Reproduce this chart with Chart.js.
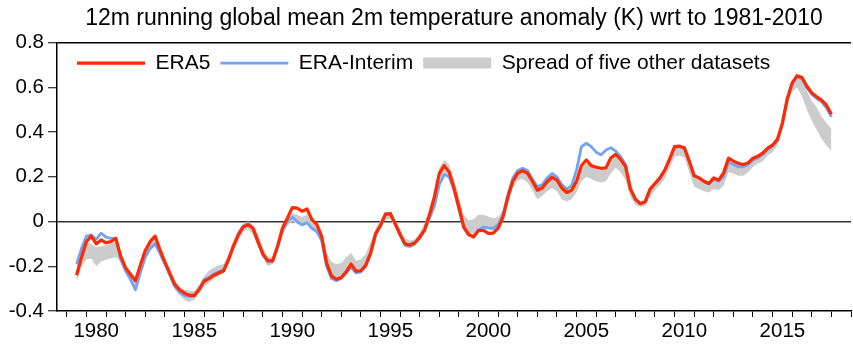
<!DOCTYPE html>
<html>
<head>
<meta charset="utf-8">
<title>12m running global mean 2m temperature anomaly</title>
<script src="https://cdn.jsdelivr.net/npm/chart.js@4.4.1/dist/chart.umd.min.js"></script>
<style>
	body { margin: 0; background: #ffffff; }
	#wrap { width: 853px; height: 345px; }
</style>
</head>
<body>
<div id="wrap"><canvas id="mycanvas" width="853" height="345"></canvas></div>
<script>
// quarterly samples, first one at mid 1979
var firstYear = 1979.5;
var stepYears = 0.25;

var era5 = [
	-0.24, -0.16,
	-0.09, -0.065, -0.10, -0.082,
	-0.095, -0.09, -0.075, -0.155,
	-0.207, -0.237, -0.265, -0.195,
	-0.13, -0.09, -0.065, -0.125,
	-0.18, -0.23, -0.28, -0.305,
	-0.32, -0.33, -0.33, -0.305,
	-0.267, -0.255, -0.24, -0.23,
	-0.22, -0.17, -0.11, -0.06,
	-0.024, -0.014, -0.03, -0.09,
	-0.145, -0.175, -0.175, -0.11,
	-0.03, 0.015, 0.062, 0.06,
	0.046, 0.056, 0.009, -0.013,
	-0.066, -0.185, -0.243, -0.258,
	-0.25, -0.225, -0.19, -0.222,
	-0.22, -0.195, -0.14, -0.055,
	-0.018, 0.032, 0.036, -0.01,
	-0.058, -0.1, -0.105, -0.095,
	-0.07, -0.037, 0.03, 0.11,
	0.215, 0.25, 0.222, 0.15,
	0.065, -0.025, -0.058, -0.068,
	-0.04, -0.04, -0.053, -0.052,
	-0.03, 0.02, 0.11, 0.18,
	0.215, 0.228, 0.215, 0.18,
	0.14, 0.15, 0.178, 0.198,
	0.185, 0.15, 0.13, 0.14,
	0.18, 0.25, 0.275, 0.25,
	0.243, 0.238, 0.24, 0.285,
	0.3, 0.278, 0.245, 0.145,
	0.1, 0.08, 0.088, 0.145,
	0.17, 0.195, 0.23, 0.28,
	0.335, 0.337, 0.33, 0.27,
	0.205, 0.195, 0.18, 0.17,
	0.195, 0.185, 0.218, 0.283,
	0.27, 0.26, 0.255, 0.262,
	0.283, 0.292, 0.306, 0.328,
	0.342, 0.368, 0.44, 0.55,
	0.62, 0.652, 0.644, 0.605,
	0.575, 0.558, 0.543, 0.52,
	0.48
];

var eraInterim = [
	-0.19, -0.12,
	-0.065, -0.06, -0.08, -0.052,
	-0.07, -0.075, -0.075, -0.17,
	-0.22, -0.26, -0.305, -0.23,
	-0.16, -0.12, -0.1, -0.14,
	-0.19, -0.24, -0.29, -0.315,
	-0.33, -0.335, -0.335, -0.3,
	-0.26, -0.25, -0.235, -0.225,
	-0.215, -0.17, -0.11, -0.055,
	-0.02, -0.01, -0.03, -0.09,
	-0.15, -0.18, -0.18, -0.115,
	-0.04, 0.0, 0.02, 0.0,
	-0.015, -0.005, -0.03, -0.045,
	-0.085, -0.2, -0.255, -0.265,
	-0.255, -0.23, -0.205, -0.23,
	-0.225, -0.2, -0.145, -0.06,
	-0.018, 0.035, 0.036, -0.01,
	-0.06, -0.105, -0.11, -0.1,
	-0.075, -0.04, 0.015, 0.07,
	0.165, 0.21, 0.2, 0.14,
	0.055, -0.03, -0.06, -0.07,
	-0.035, -0.025, -0.028, -0.03,
	-0.015, 0.03, 0.12, 0.195,
	0.228, 0.238, 0.228, 0.19,
	0.155, 0.165, 0.195, 0.215,
	0.2, 0.165, 0.145, 0.16,
	0.23, 0.335, 0.35, 0.335,
	0.31, 0.298, 0.32, 0.33,
	0.315, 0.29, 0.255, 0.15,
	0.1, 0.08, 0.088, 0.14,
	0.168, 0.19, 0.228, 0.275,
	0.33, 0.335, 0.328, 0.27,
	0.205, 0.195, 0.178, 0.168,
	0.19, 0.18, 0.2, 0.265,
	0.255, 0.245, 0.245, 0.255,
	0.275, 0.285, 0.3, 0.322,
	0.336, 0.362, 0.435, 0.545,
	0.615, 0.645, 0.638, 0.598,
	0.568, 0.55, 0.535, 0.508,
	0.468
];

var spreadHigh = [
	-0.2, -0.14,
	-0.09, -0.1, -0.115, -0.11,
	-0.105, -0.1, -0.09, -0.155,
	-0.2, -0.22, -0.25, -0.19,
	-0.12, -0.085, -0.07, -0.115,
	-0.17, -0.215, -0.265, -0.29,
	-0.305, -0.31, -0.31, -0.285,
	-0.245, -0.22, -0.205, -0.195,
	-0.19, -0.145, -0.085, -0.04,
	-0.01, 0.0, -0.015, -0.055,
	-0.115, -0.16, -0.155, -0.095,
	-0.02, 0.015, 0.035, 0.03,
	0.02, 0.03, 0.0, -0.015,
	-0.05, -0.14, -0.18, -0.19,
	-0.185, -0.16, -0.14, -0.175,
	-0.17, -0.145, -0.09, -0.03,
	0.005, 0.045, 0.04, 0.005,
	-0.035, -0.075, -0.085, -0.08,
	-0.05, -0.01, 0.06, 0.13,
	0.24, 0.275, 0.255, 0.19,
	0.11, 0.03, 0.005, 0.01,
	0.03, 0.03, 0.022, 0.015,
	0.02, 0.05, 0.13, 0.2,
	0.225, 0.23, 0.215, 0.18,
	0.145, 0.155, 0.18, 0.195,
	0.185, 0.15, 0.13, 0.14,
	0.175, 0.235, 0.26, 0.245,
	0.235, 0.23, 0.235, 0.275,
	0.295, 0.275, 0.245, 0.15,
	0.11, 0.09, 0.1, 0.15,
	0.175, 0.2, 0.235, 0.285,
	0.335, 0.335, 0.325, 0.265,
	0.2, 0.19, 0.175, 0.17,
	0.19, 0.18, 0.21, 0.27,
	0.26, 0.25, 0.25, 0.265,
	0.29, 0.3, 0.315, 0.335,
	0.35, 0.38, 0.45, 0.56,
	0.625, 0.645, 0.63, 0.585,
	0.54, 0.51, 0.47, 0.44,
	0.415
];

var spreadLow = [
	-0.27, -0.2,
	-0.17, -0.165, -0.2, -0.18,
	-0.17, -0.165, -0.16, -0.18,
	-0.23, -0.265, -0.3, -0.24,
	-0.17, -0.13, -0.11, -0.16,
	-0.2, -0.25, -0.3, -0.33,
	-0.35, -0.36, -0.35, -0.32,
	-0.29, -0.275, -0.255, -0.245,
	-0.23, -0.19, -0.13, -0.085,
	-0.045, -0.035, -0.06, -0.11,
	-0.16, -0.2, -0.19, -0.13,
	-0.06, -0.02, 0.0, -0.01,
	-0.02, -0.01, -0.03, -0.055,
	-0.09, -0.2, -0.25, -0.26,
	-0.25, -0.225, -0.2, -0.225,
	-0.22, -0.2, -0.145, -0.06,
	-0.03, 0.01, 0.01, -0.025,
	-0.07, -0.115, -0.12, -0.11,
	-0.085, -0.05, 0.0, 0.07,
	0.17, 0.22, 0.19, 0.13,
	0.05, -0.025, -0.05, -0.055,
	-0.025, -0.02, -0.035, -0.04,
	-0.02, 0.0, 0.08, 0.15,
	0.185, 0.19, 0.175, 0.14,
	0.1, 0.115, 0.135, 0.15,
	0.135, 0.1, 0.09, 0.1,
	0.13, 0.18, 0.2, 0.19,
	0.18, 0.175, 0.18, 0.215,
	0.24, 0.22, 0.185, 0.11,
	0.075, 0.065, 0.07, 0.11,
	0.14, 0.165, 0.19, 0.24,
	0.29, 0.295, 0.285, 0.22,
	0.155, 0.145, 0.135, 0.13,
	0.145, 0.14, 0.16, 0.22,
	0.215, 0.205, 0.205, 0.22,
	0.245, 0.26, 0.27, 0.295,
	0.31, 0.34, 0.41, 0.52,
	0.58, 0.6, 0.56, 0.5,
	0.45, 0.41, 0.37, 0.34,
	0.315
];

var yTicks = [-0.4, -0.2, 0, 0.2, 0.4, 0.6, 0.8];
var xLabelEvery = 5;

function toPoints(values) {
	var pts = [];
	for (var i = 0; i < values.length; i++) {
		pts.push({ x: firstYear + i * stepYears, y: values[i] });
	}
	return pts;
}

var fontFamily = "'Liberation Sans', Arial, sans-serif";
Chart.defaults.color = '#000000';
Chart.defaults.font.family = fontFamily;

// the legend sits inside the plot, under the top axis
var legendInPlot = {
	id: 'legendInPlot',
	beforeDraw: function(chart) {
		var lg = chart.legend;
		var area = chart.chartArea;
		lg.left = area.left + 10;
		lg.right = area.right;
		lg.top = area.top;
		lg.bottom = area.top + 40;
		lg.width = lg.right - lg.left;
		lg.height = 40;
	}
};

var chartdata = {
	datasets: [
		{
			label: 'ERA5',
			data: toPoints(era5),
			borderColor: '#ff2a00',
			backgroundColor: '#ff2a00',
			borderWidth: 3.2,
			pointRadius: 0,
			pointStyle: 'line',
			fill: false,
			order: 1
		},
		{
			label: 'ERA-Interim',
			data: toPoints(eraInterim),
			borderColor: '#74a2f6',
			backgroundColor: '#74a2f6',
			borderWidth: 2.8,
			pointRadius: 0,
			pointStyle: 'line',
			fill: false,
			order: 2
		},
		{
			label: 'Spread of five other datasets',
			data: toPoints(spreadHigh),
			borderColor: 'rgba(0,0,0,0)',
			backgroundColor: '#cccccc',
			borderWidth: 0,
			pointRadius: 0,
			pointStyle: 'line',
			fill: '+1',
			order: 3
		},
		{
			label: '',
			data: toPoints(spreadLow),
			borderColor: 'rgba(0,0,0,0)',
			backgroundColor: '#cccccc',
			borderWidth: 0,
			pointRadius: 0,
			fill: false,
			order: 3
		}
	]
};

var ctx = document.getElementById('mycanvas');

var LineGraph = new Chart(ctx, {
	type: 'line',
	data: chartdata,
	plugins: [legendInPlot],
	options: {
		responsive: false,
		animation: false,
		devicePixelRatio: 1,
		layout: { padding: 0 },
		elements: { line: { tension: 0, borderJoinStyle: 'round' } },
		plugins: {
			title: {
				display: true,
				fullSize: false,
				text: '12m running global mean 2m temperature anomaly (K) wrt to 1981-2010',
				color: '#000000',
				font: { size: 23, weight: 'normal', family: fontFamily },
				padding: { top: 5, bottom: 9 }
			},
			legend: {
				display: true,
				position: 'top',
				align: 'start',
				fullSize: false,
				maxHeight: 1,
				labels: {
					usePointStyle: true,
					pointStyleWidth: 68,
					padding: 10,
					color: '#000000',
					font: { size: 21, family: fontFamily },
					filter: function(item) { return item.text !== ''; },
					generateLabels: function(chart) {
						var items = Chart.defaults.plugins.legend.labels.generateLabels(chart);
						items.forEach(function(it) {
							it.pointStyle = 'line';
							if (it.datasetIndex === 2) {
								it.lineWidth = 11;
								it.strokeStyle = '#cccccc';
							}
						});
						return items;
					}
				}
			},
			tooltip: { enabled: false }
		},
		scales: {
			x: {
				type: 'linear',
				min: 1978.5,
				max: 2019,
				afterFit: function(scale) { scale.height = 34; },
				border: { display: true, color: '#000000', width: 1.5 },
				grid: {
					display: true,
					drawOnChartArea: false,
					drawTicks: true,
					tickLength: 6,
					tickColor: '#000000',
					tickWidth: 1
				},
				ticks: {
					stepSize: 1,
					includeBounds: false,
					autoSkip: false,
					maxRotation: 0,
					padding: 2,
					labelOffset: 9.8,
					font: { size: 20.5, family: fontFamily },
					color: '#000000',
					callback: function(value) {
						return value % xLabelEvery === 0 ? String(value) : '';
					}
				}
			},
			y: {
				min: yTicks[0],
				max: yTicks[yTicks.length - 1],
				afterFit: function(scale) { scale.width = 57; },
				afterBuildTicks: function(scale) {
					scale.ticks = yTicks.map(function(v) { return { value: v }; });
				},
				border: { display: true, color: '#000000', width: 1.5 },
				grid: {
					display: true,
					drawOnChartArea: true,
					drawTicks: true,
					tickLength: 9,
					tickColor: '#000000',
					tickWidth: 1,
					lineWidth: 1.5,
					color: function(c) {
						if (!c.tick) return 'rgba(0,0,0,0)';
						if (c.tick.value === 0) return '#333333';
						if (c.tick.value === yTicks[yTicks.length - 1]) return '#000000';
						return 'rgba(0,0,0,0)';
					}
				},
				ticks: {
					padding: 4,
					font: { size: 20.5, family: fontFamily },
					color: '#000000',
					callback: function(value) {
						return String(Math.round(value * 10) / 10);
					}
				}
			}
		}
	}
});
</script>
</body>
</html>
